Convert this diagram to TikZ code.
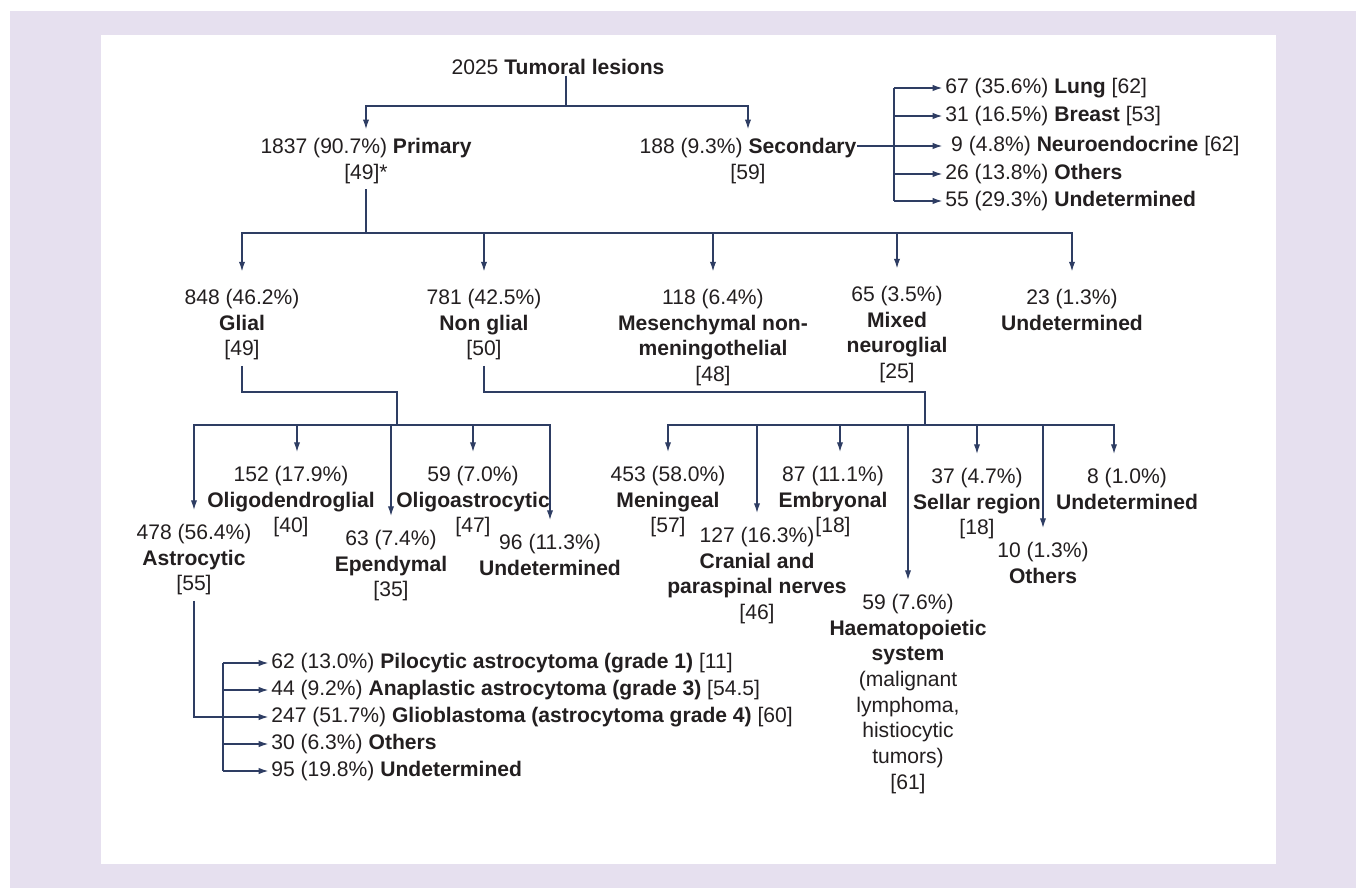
\documentclass[tikz,border=0pt]{standalone}
\usepackage{fontspec}
\setmainfont{Liberation Sans}
\usetikzlibrary{arrows.meta}
\definecolor{lav}{HTML}{E6E0EF}
\definecolor{navy}{HTML}{2E3D63}
\definecolor{ink}{HTML}{231F20}
\begin{document}
\begin{tikzpicture}[x=0.02cm,y=-0.02cm,
    lbl/.style={align=center,inner sep=0pt,anchor=north,text=ink,font=\fontsize{12}{14.6}\selectfont},
    itm/.style={anchor=west,inner sep=0pt,text=ink,font=\fontsize{12}{14.6}\selectfont},
    ln/.style={navy,line width=0.7pt},
    arr/.style={ln,-{Latex[length=5.5pt,width=3.6pt]}}]
    % frame
    \useasboundingbox (0,0) rectangle (1356,888);
    \fill[lav] (10,11) rectangle (1356,888);
    \fill[white] (101,35) rectangle (1276,864);

    % lecter
    \node[lbl,anchor=base] (tum) at (558,75) {2025 \textbf{Tumoral lesions}};
    \node[lbl] (pri) at (366,138) {1837 (90.7\%) \textbf{Primary}\\{}[49]*};
    \node[lbl] (sec) at (748,138) {188 (9.3\%) \textbf{Secondary}\\{}[59]};

    \node[itm] (lun) at (945,88) {67 (35.6\%) \textbf{Lung} [62]};
    \node[itm] (bre) at (945,116) {31 (16.5\%) \textbf{Breast} [53]};
    \node[itm] (neu) at (945,146) {\ 9 (4.8\%) \textbf{Neuroendocrine} [62]};
    \node[itm] (sot) at (945,174) {26 (13.8\%) \textbf{Others}};
    \node[itm] (sun) at (945,201) {55 (29.3\%) \textbf{Undetermined}};

    \node[lbl] (gli) at (242,289) {848 (46.2\%)\\\textbf{Glial}\\{}[49]};
    \node[lbl] (ngl) at (484,289) {781 (42.5\%)\\\textbf{Non glial}\\{}[50]};
    \node[lbl] (mes) at (713,289) {118 (6.4\%)\\\textbf{Mesenchymal non-}\\\textbf{meningothelial}\\{}[48]};
    \node[lbl] (mix) at (897,286) {65 (3.5\%)\\\textbf{Mixed}\\\textbf{neuroglial}\\{}[25]};
    \node[lbl] (pun) at (1072,289) {23 (1.3\%)\\\textbf{Undetermined}};

    \node[lbl] (ast) at (194,524) {478 (56.4\%)\\\textbf{Astrocytic}\\{}[55]};
    \node[lbl] (oli) at (291,466) {152 (17.9\%)\\\textbf{Oligodendroglial}\\{}[40]};
    \node[lbl] (epe) at (391,530) {63 (7.4\%)\\\textbf{Ependymal}\\{}[35]};
    \node[lbl] (oas) at (473,466) {59 (7.0\%)\\\textbf{Oligoastrocytic}\\{}[47]};
    \node[lbl] (gun) at (550,534) {96 (11.3\%)\\\textbf{Undetermined}};

    \node[lbl] (men) at (668,466) {453 (58.0\%)\\\textbf{Meningeal}\\{}[57]};
    \node[lbl] (cra) at (757,527) {127 (16.3\%)\\\textbf{Cranial and}\\\textbf{paraspinal nerves}\\{}[46]};
    \node[lbl] (emb) at (833,466) {87 (11.1\%)\\\textbf{Embryonal}\\{}[18]};
    \node[lbl] (hae) at (908,594) {59 (7.6\%)\\\textbf{Haematopoietic}\\\textbf{system}\\(malignant\\lymphoma,\\histiocytic\\tumors)\\{}[61]};
    \node[lbl] (sel) at (977,468) {37 (4.7\%)\\\textbf{Sellar region}\\{}[18]};
    \node[lbl] (oth) at (1043,542) {10 (1.3\%)\\\textbf{Others}};
    \node[lbl] (nun) at (1127,468) {8 (1.0\%)\\\textbf{Undetermined}};

    \node[itm] (pil) at (271,663) {62 (13.0\%) \textbf{Pilocytic astrocytoma (grade 1)} [11]};
    \node[itm] (ana) at (271,690) {44 (9.2\%) \textbf{Anaplastic astrocytoma (grade 3)} [54.5]};
    \node[itm] (glb) at (271,717) {247 (51.7\%) \textbf{Glioblastoma (astrocytoma grade 4)} [60]};
    \node[itm] (aot) at (271,744) {30 (6.3\%) \textbf{Others}};
    \node[itm] (aun) at (271,771) {95 (19.8\%) \textbf{Undetermined}};

    % line
    \coordinate (j0) at (566,106);
    \draw[ln] (tum.south -| j0) -- (j0);
    \draw[arr,shorten >=5pt] (j0) -| (pri.north);
    \draw[arr,shorten >=5pt] (j0) -| (sec.north);

    \coordinate (sb) at (894,0);
    \draw[ln] (sb |- lun.west) -- (sb |- sun.west);
    \draw[arr,shorten >=1.5pt] (sec.east |- neu.west) -- (neu.west);
    \foreach \n in {lun,bre,sot,sun}
        \draw[arr,shorten >=1.5pt] (sb |- \n.west) -- (\n.west);

    \coordinate (j1) at (367,233);
    \draw[ln,shorten <=3pt] (pri.south) |- (j1);
    \foreach \n in {gli,ngl,mes,mix,pun}
        \draw[arr,shorten >=10pt] (j1) -| (\n.north);

    \coordinate (gk) at (397,392);
    \coordinate (gj) at (397,425);
    \draw[ln,shorten <=3pt] (gli.south) |- (gk) -- (gj);
    \foreach \n in {ast,epe,gun}
        \draw[arr,shorten >=8pt] (gj) -| (\n.north);
    \draw[arr,shorten >=8pt] (gj) -| ([xshift=0.12cm]oli.north);
    \draw[arr,shorten >=8pt] (gj) -| (oas.north);

    \coordinate (nk) at (925,392);
    \coordinate (nj) at (925,425);
    \draw[ln,shorten <=3pt] (ngl.south) |- (nk) -- (nj);
    \foreach \n in {men,cra,hae,sel,oth}
        \draw[arr,shorten >=8pt] (nj) -| (\n.north);
    \draw[arr,shorten >=8pt] (nj) -| ([xshift=0.14cm]emb.north);
    \draw[arr,shorten >=8pt] (nj) -| ([xshift=-0.26cm]nun.north);

    \coordinate (ab) at (223,0);
    \draw[ln] (ab |- pil.west) -- (ab |- aun.west);
    \draw[arr,shorten <=3pt,shorten >=1.5pt] (ast.south) |- (glb.west);
    \foreach \n in {pil,ana,aot,aun}
        \draw[arr,shorten >=1.5pt] (ab |- \n.west) -- (\n.west);
\end{tikzpicture}
\end{document}
